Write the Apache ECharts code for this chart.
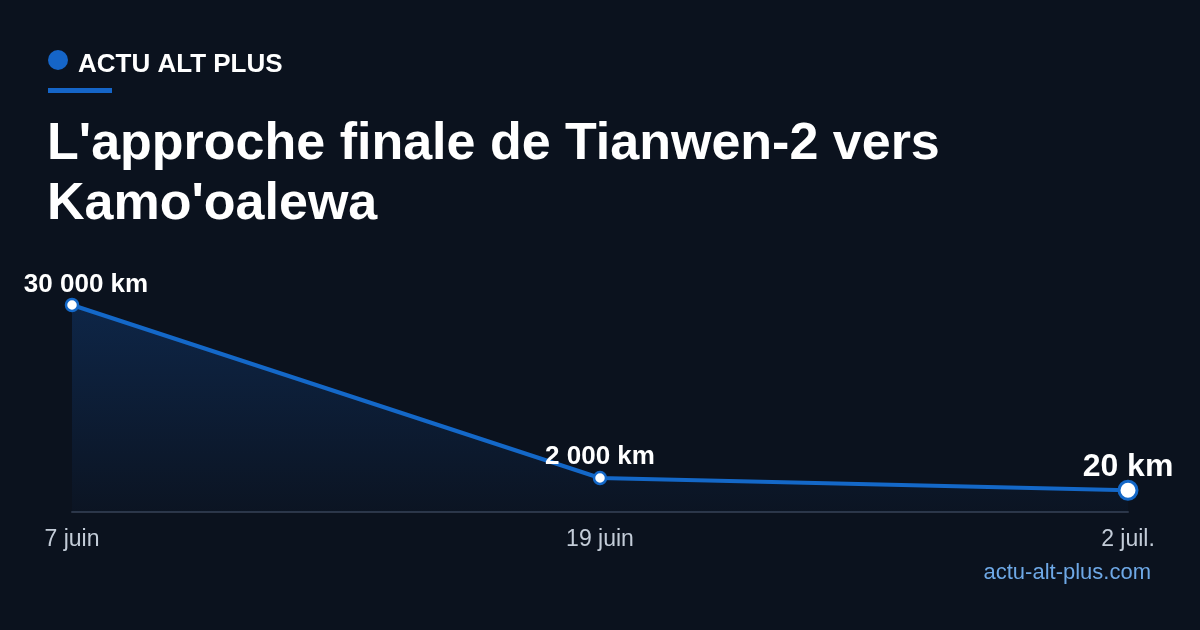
<!DOCTYPE html>
<html>
<head>
<meta charset="utf-8">
<title>Tianwen-2 vers Kamo'oalewa</title>
<script src="https://cdn.jsdelivr.net/npm/echarts@6/dist/echarts.min.js"></script>
<style>
  html, body { margin: 0; padding: 0; background: #0b121e; }
  #main { width: 1200px; height: 630px; }
</style>
</head>
<body>
<div id="main"></div>
<script>
// donnees de l'approche
var dates = ['7 juin', '19 juin', '2 juil.'];
var distances = [30000, 2000, 20];
var labels = ['30 000 km', '2 000 km', '20 km'];

var FONT = "'Liberation Sans', Arial, sans-serif";
var chart = echarts.init(document.getElementById('main'));

// decalages des etiquettes
var labelOffsets = [[14, 7], [0, 6], [0, 11]];

var seriesData = distances.map(function (v, i) {
    var last = i === distances.length - 1;
    return {
        value: v,
        symbolSize: last ? 18 : 12,
        itemStyle: { borderWidth: last ? 3 : 2.5 },
        label: {
            formatter: labels[i],
            fontSize: last ? 32 : 26,
            distance: last ? 8 : 7,
            offset: labelOffsets[i]
        }
    };
});

var option = {
    backgroundColor: '#0b121e',
    animation: false,
    textStyle: { fontFamily: FONT },
    title: [
        {
            text: 'ACTU ALT PLUS',
            left: 78, top: 52, padding: 0,
            textStyle: { color: '#ffffff', fontSize: 26, fontWeight: 'bold', fontFamily: FONT }
        },
        {
            text: "L'approche finale de Tianwen-2 vers\nKamo'oalewa",
            left: 47, top: 115, padding: 0,
            textStyle: { color: '#ffffff', fontSize: 52, fontWeight: 'bold', lineHeight: 60, fontFamily: FONT }
        },
        {
            text: 'actu-alt-plus.com',
            right: 49, top: 562, padding: 0,
            textStyle: { color: '#6ea8e6', fontSize: 22, fontWeight: 'normal', fontFamily: FONT }
        }
    ],
    graphic: [
        { type: 'circle', shape: { cx: 58, cy: 60, r: 10 }, style: { fill: '#1565c8' } },
        { type: 'rect', shape: { x: 48, y: 88, width: 64, height: 5 }, style: { fill: '#1565c8' } }
    ],
    grid: { left: 72, right: 72, top: 305, bottom: 118 },
    xAxis: {
        type: 'category',
        data: dates,
        boundaryGap: false,
        axisLine: { onZero: false, lineStyle: { color: '#2c3648', width: 2 } },
        axisTick: { show: false },
        axisLabel: { color: '#c3ccd8', fontSize: 23, margin: 16, fontFamily: FONT },
        splitLine: { show: false }
    },
    yAxis: {
        type: 'value',
        min: -3500,
        max: 30000,
        show: false
    },
    series: [{
        type: 'line',
        data: seriesData,
        symbol: 'circle',
        lineStyle: { color: '#1468c8', width: 4 },
        itemStyle: { color: '#ffffff', borderColor: '#1468c8' },
        areaStyle: {
            origin: 'start',
            color: new echarts.graphic.LinearGradient(0, 0, 0, 1, [
                { offset: 0, color: 'rgba(20,80,160,0.45)' },
                { offset: 1, color: 'rgba(20,80,160,0.05)' }
            ])
        },
        label: {
            show: true,
            position: 'top',
            color: '#ffffff',
            fontWeight: 'bold',
            fontFamily: FONT
        },
        z: 3
    }]
};
chart.setOption(option);
</script>
</body>
</html>
